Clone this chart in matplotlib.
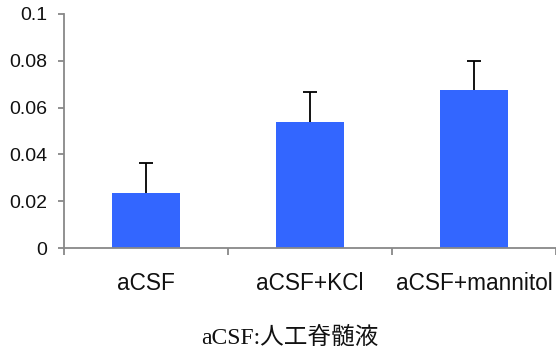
import matplotlib
matplotlib.use("Agg")
import matplotlib.pyplot as plt
from matplotlib.ticker import FixedLocator, FixedFormatter

categories = ["aCSF", "aCSF+KCl", "aCSF+mannitol"]
values = [0.0235, 0.0538, 0.0675]
errors = [0.0128, 0.0129, 0.0125]
yticks = [0, 0.02, 0.04, 0.06, 0.08, 0.1]
ytick_labels = ["0", "0.02", "0.04", "0.06", "0.08", "0.1"]
caption = "aCSF:人工脊髄液"

fig = plt.figure(figsize=(5.56, 3.5), dpi=100)
ax = fig.add_axes([0.115, 0.291, 0.885, 0.669])

pos = [i + 0.5 for i in range(len(categories))]
ax.bar(pos, values, width=0.41, color="#3366FF", zorder=2)
eb = ax.errorbar(pos, values, yerr=[[0]*len(errors), errors], fmt="none",
                 ecolor="black", elinewidth=1.3, capsize=5, capthick=1.3, zorder=3)
caplines = eb.lines[1]
if len(caplines) == 2:
    caplines[0].set_visible(False)

ax.set_xlim(0, 3)
ax.set_ylim(0, 0.1)
for s in ["top", "right"]:
    ax.spines[s].set_visible(False)
for s in ["left", "bottom"]:
    ax.spines[s].set_color("#888888")
    ax.spines[s].set_linewidth(1.3)

ax.xaxis.set_major_locator(FixedLocator([0, 1, 2, 3]))
ax.xaxis.set_major_formatter(FixedFormatter(["", "", "", ""]))
ax.xaxis.set_minor_locator(FixedLocator(pos))
ax.xaxis.set_minor_formatter(FixedFormatter(categories))
ax.tick_params(axis="x", which="major", direction="out", length=5, color="#888888", width=1.3)
ax.tick_params(axis="x", which="minor", length=0, pad=17, labelsize=16.3, labelcolor="#111111")
for lab in ax.get_xticklabels(minor=True):
    lab.set_family("Liberation Sans")

ax.set_yticks(yticks)
ax.set_yticklabels(ytick_labels)
ax.tick_params(axis="y", direction="out", length=4, color="#888888", width=1.3, pad=8,
               labelsize=14, labelcolor="#111111")
for lab in ax.get_yticklabels():
    lab.set_family("Liberation Sans")

fig.text(0.522, 0.036, caption, ha="center", va="center", fontsize=17, color="#111111",
         family=["Liberation Serif", "Noto Sans CJK JP"])

fig.savefig("out.png", dpi=100)
